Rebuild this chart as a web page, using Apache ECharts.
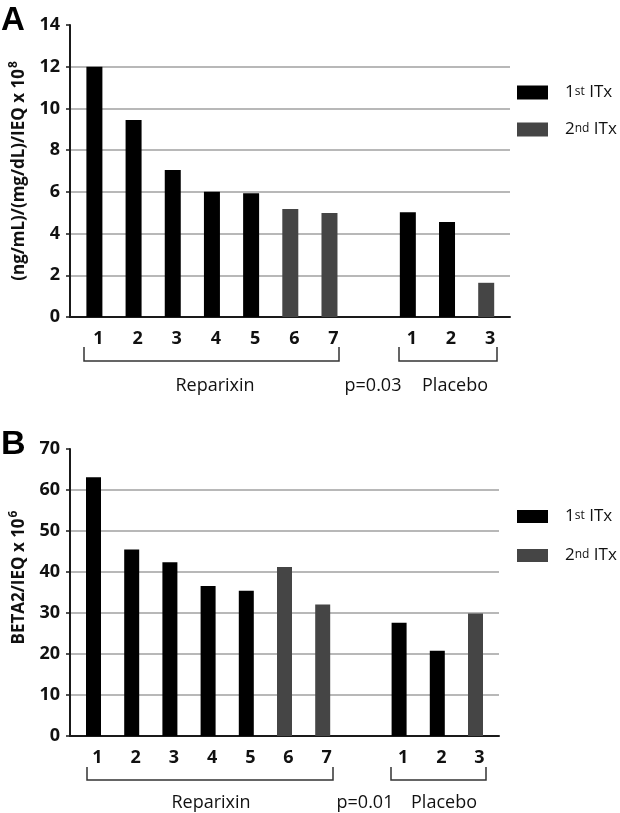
<!DOCTYPE html>
<html>
<head>
<meta charset="utf-8">
<script src="https://cdn.jsdelivr.net/npm/echarts@6/dist/echarts.min.js"></script>
<style>
html,body{margin:0;padding:0;background:#fff;}
#chart{width:620px;height:813px;}
</style>
</head>
<body>
<div id="chart"></div>
<script>
// ---- data ----
const categories = ['1','2','3','4','5','6','7','','1','2','3'];
const seriesNames = ['1st ITx','2nd ITx'];
const panelA_first  = [12.0, 9.45, 7.05, 6.0, 5.93, null, null, null, 5.02, 4.55, null];
const panelA_second = [null, null, null, null, null, 5.18, 4.99, null, null, null, 1.64];
const panelB_first  = [63.1, 45.5, 42.4, 36.6, 35.4, null, null, null, 27.6, 20.8, null];
const panelB_second = [null, null, null, null, null, 41.2, 32.1, null, null, null, 29.9];
const yTicksA = [0, 2, 4, 6, 8, 10, 12, 14];
const yTicksB = [0, 10, 20, 30, 40, 50, 60, 70];
const groupLabels = ['Reparixin', 'Placebo'];
const pValues = ['p=0.03', 'p=0.01'];

// ---- layout ----
const GRID_A = {left:70, width:440, top:25, bottom:496};
const GRID_B = {left:70, width:429, top:449, bottom:77};
// wanted pixel centre of first and 11th slot
const SLOT_A = [94.4, 486.2];
const SLOT_B = [93.5, 475.5];

function pairs(arr){ const out=[]; arr.forEach((v,i)=>{ if(v!=null) out.push([i,v]); }); return out; }
const catIdx = categories.map((c,i)=>c===''?null:i).filter(v=>v!=null);

const FONT = '"Open Sans", "Liberation Sans", sans-serif';
const C1 = '#000000', C2 = '#454545';

function slotExtent(slot, g){
  const u = (slot[1]-slot[0])/10;
  const mn = -(slot[0]-g.left)/u;
  return [mn, mn + g.width/u];
}

function xAxisFor(gridIndex, ext){
  return {
    type:'value', gridIndex, min:ext[0], max:ext[1],
    axisLine:{show:true, onZero:false, lineStyle:{color:'#1a1a1a', width:2}},
    axisTick:{show:false},
    splitLine:{show:false},
    axisLabel:{
      customValues: catIdx,
      formatter: v => categories[Math.round(v)],
      fontFamily: FONT, fontWeight:'bold', fontSize:18, color:'#111', margin:13,
      padding:[0,0,0,8]
    }
  };
}
function yAxisFor(gridIndex, ticks, nameRich, namePad){
  const n = ticks.length;
  const gridColors = ticks.map((t,i)=> i===n-1 ? 'rgba(0,0,0,0)' : '#a0a0a0');
  return {
    type:'value', gridIndex, min:ticks[0], max:ticks[n-1], interval:ticks[1]-ticks[0],
    axisLine:{show:true, onZero:false, lineStyle:{color:'#1a1a1a', width:2}},
    axisTick:{show:true, length:4, lineStyle:{color:'#1a1a1a', width:1.5}},
    splitLine:{show:true, lineStyle:{color:gridColors, width:1.5}},
    axisLabel:{fontFamily:FONT, fontWeight:'bold', fontSize:18, color:'#111', margin:10},
    name: nameRich,
    nameLocation:'middle',
    nameGap:40,
    nameRotate:90,
    nameTextStyle:{
      fontFamily:FONT, fontWeight:'bold', fontSize:17, color:'#111',
      padding: namePad,
      rich:{
        b:{fontFamily:FONT, fontWeight:'bold', fontSize:17, color:'#111'},
        s:{fontFamily:FONT, fontWeight:'bold', fontSize:12, color:'#111', padding:[0,0,10,1]}
      }
    }
  };
}
function legendFor(top, h, gap){
  return {
    orient:'vertical', left:517, top, padding:0, itemWidth:31, itemHeight:h, itemGap:gap,
    icon:'rect', selectedMode:false,
    data: seriesNames,
    formatter: name => name===seriesNames[0] ? '{b|1}{s|st}{b| ITx}' : '{b|2}{s|nd}{b| ITx}',
    textStyle:{
      padding:[0,0,0,12],
      rich:{
        b:{fontFamily:FONT, fontSize:17, color:'#111', lineHeight:h},
        s:{fontFamily:FONT, fontSize:12, color:'#111', lineHeight:1, verticalAlign:'top'}
      }
    }
  };
}
function barSeries(name, color, data, axisIndex){
  return {
    type:'bar', name, xAxisIndex:axisIndex, yAxisIndex:axisIndex,
    stack:'p'+axisIndex, barWidth: axisIndex===0 ? 16 : 15,
    itemStyle:{color}, data: pairs(data), silent:true, animation:false
  };
}
function bracket(x1,x2,yTop,yBot){
  return {type:'polyline', silent:true,
    shape:{points:[[x1,yTop],[x1,yBot],[x2,yBot],[x2,yTop]]},
    style:{stroke:'#333', lineWidth:1.5, fill:null}};
}
function label(text,x,y){
  return {type:'text', silent:true,
    style:{text, x, y, textAlign:'center', textVerticalAlign:'middle', align:'center', verticalAlign:'middle',
      font:'18px "Open Sans", sans-serif', fill:'#111'}};
}

const chart = echarts.init(document.getElementById('chart'), null, {renderer:'canvas'});
let extA = slotExtent(SLOT_A, GRID_A), extB = slotExtent(SLOT_B, GRID_B);
const wantA = extA.slice(), wantB = extB.slice();

chart.setOption({
  backgroundColor:'#fff',
  animation:false,
  grid:[
    {left:GRID_A.left, width:GRID_A.width, top:GRID_A.top, bottom:GRID_A.bottom},
    {left:GRID_B.left, width:GRID_B.width, top:GRID_B.top, bottom:GRID_B.bottom}
  ],
  xAxis:[ xAxisFor(0, extA), xAxisFor(1, extB) ],
  yAxis:[
    yAxisFor(0, yTicksA, '{b|(ng/mL)/(mg/dL)/IEQ x 10}{s|8}', [0,0,0,0]),
    yAxisFor(1, yTicksB, '{b|BETA2/IEQ x 10}{s|6}', [0,0,0,30])
  ],
  legend:[ legendFor(84, 14, 20), legendFor(508, 13, 22) ],
  series:[
    barSeries(seriesNames[0], C1, panelA_first, 0),
    barSeries(seriesNames[1], C2, panelA_second, 0),
    barSeries(seriesNames[0], C1, panelB_first, 1),
    barSeries(seriesNames[1], C2, panelB_second, 1)
  ],
  graphic:[
    {type:'text', silent:true, style:{text:'A', x:1, y:4, font:'bold 33px "Liberation Sans", Arial, sans-serif', fill:'#000'}},
    {type:'text', silent:true, style:{text:'B', x:1, y:428, font:'bold 34px "Liberation Sans", Arial, sans-serif', fill:'#000'}},
    bracket(84, 339, 347, 361),
    bracket(399, 497, 347, 361),
    label(groupLabels[0], 215, 386),
    label(pValues[0], 373, 386),
    label(groupLabels[1], 455, 386),
    bracket(87, 333, 767, 780),
    bracket(391, 486, 767, 780),
    label(groupLabels[0], 211, 803),
    label(pValues[1], 365, 803),
    label(groupLabels[1], 444, 803)
  ]
});

// correct for any extent padding the library adds around bars on a value axis
function measured(idx, g){
  const p0 = chart.convertToPixel({xAxisIndex:idx}, 0);
  const p10 = chart.convertToPixel({xAxisIndex:idx}, 10);
  const u = (p10-p0)/10;
  const e0 = -(p0-g.left)/u;
  return [e0, e0 + g.width/u];
}
for (let k=0; k<4; k++){
  const mA = measured(0, GRID_A), mB = measured(1, GRID_B);
  extA = [extA[0] + wantA[0]-mA[0], extA[1] + wantA[1]-mA[1]];
  extB = [extB[0] + wantB[0]-mB[0], extB[1] + wantB[1]-mB[1]];
  chart.setOption({xAxis:[{min:extA[0], max:extA[1]}, {min:extB[0], max:extB[1]}]});
}
</script>
</body>
</html>
